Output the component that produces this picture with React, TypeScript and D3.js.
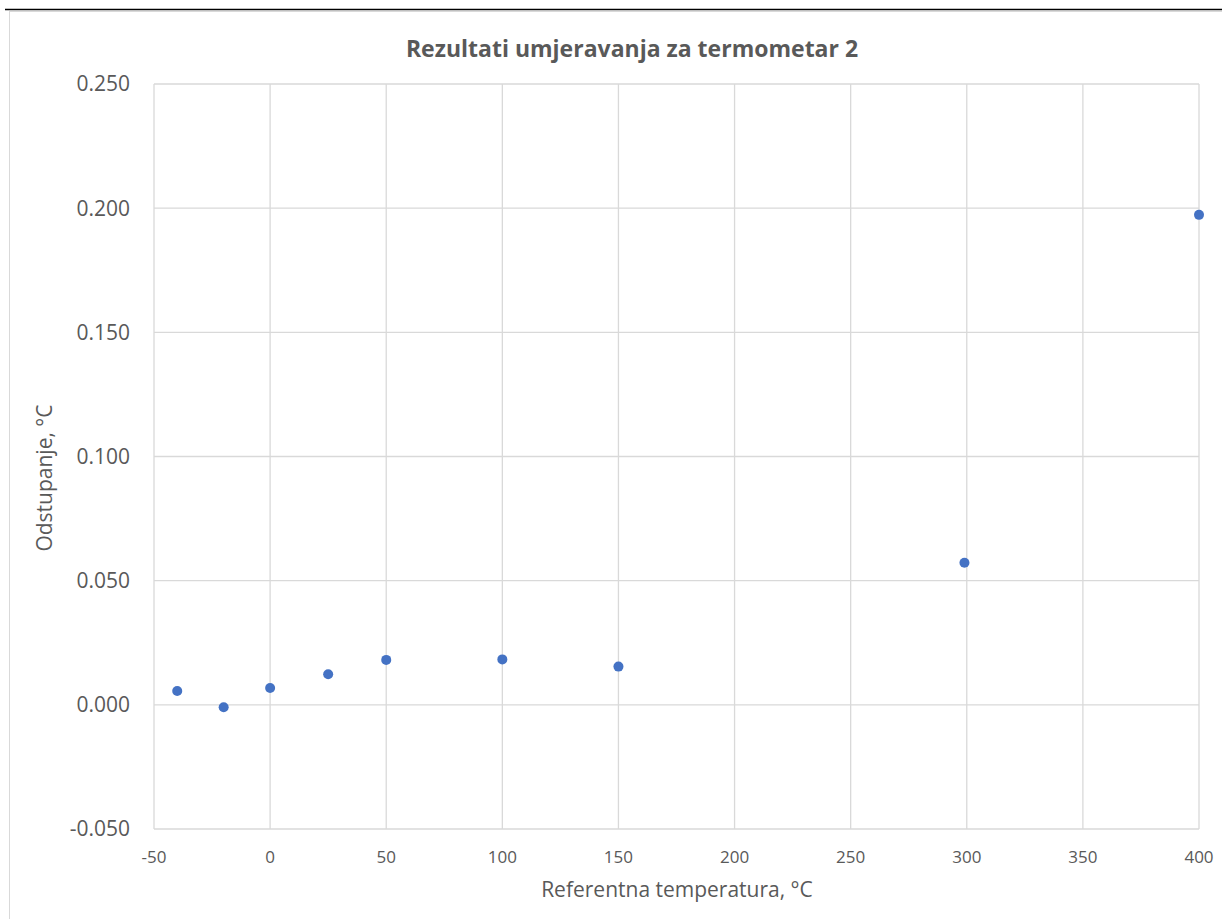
import { useEffect, useRef } from 'react';
import * as d3 from 'd3';

const temps = [-40, -20, 0, 25, 50, 100, 150, 299, 400];
const deviations = [0.0056, -0.001, 0.0068, 0.0123, 0.0181, 0.0183, 0.0154, 0.0572, 0.1973];
const xTicks = [-50, 0, 50, 100, 150, 200, 250, 300, 350, 400];
const yTicks = [-0.05, 0, 0.05, 0.1, 0.15, 0.2, 0.25];

const font = '"Open Sans", "Noto Sans", sans-serif';
const textColor = '#595959';
const gridColor = '#d9d9d9';

function App() {
  const svgRef = useRef(null);

  useEffect(() => {
    const svg = d3.select(svgRef.current);
    svg.selectAll('*').remove();

    const xScale = d3.scaleLinear().domain([-50, 400]).range([154, 1199]);
    const yScale = d3.scaleLinear().domain([-0.05, 0.25]).range([829, 84]);
    const fmt = (d: number) => d3.format('.3f')(d).replace('\u2212', '-');

    // page header rule and chart frame
    svg.append('line')
      .attr('x1', 5).attr('x2', 1222).attr('y1', 9.5).attr('y2', 9.5)
      .attr('stroke', '#000').attr('stroke-width', 1.5);
    svg.append('rect')
      .attr('x', 9.5).attr('y', 11.5).attr('width', 1230).attr('height', 920)
      .attr('fill', '#fff').attr('stroke', gridColor);

    // grid
    svg.append('g')
      .selectAll('line')
      .data(yTicks)
      .join('line')
      .attr('x1', xScale(-50)).attr('x2', xScale(400))
      .attr('y1', d => yScale(d)).attr('y2', d => yScale(d))
      .attr('stroke', gridColor).attr('stroke-width', 1.3);
    svg.append('g')
      .selectAll('line')
      .data(xTicks)
      .join('line')
      .attr('x1', d => xScale(d)).attr('x2', d => xScale(d))
      .attr('y1', yScale(0.25)).attr('y2', yScale(-0.05))
      .attr('stroke', gridColor).attr('stroke-width', 1.3);

    // tick labels
    svg.append('g')
      .selectAll('text')
      .data(yTicks)
      .join('text')
      .attr('x', 130)
      .attr('y', d => yScale(d))
      .attr('dy', '0.35em')
      .attr('text-anchor', 'end')
      .attr('font-family', font).attr('font-size', 21).attr('fill', textColor)
      .text(d => fmt(d));
    svg.append('g')
      .selectAll('text')
      .data(xTicks)
      .join('text')
      .attr('x', d => xScale(d))
      .attr('y', 857)
      .attr('dy', '0.35em')
      .attr('text-anchor', 'middle')
      .attr('font-family', font).attr('font-size', 17).attr('fill', textColor)
      .text(d => d);

    // points
    svg.append('g')
      .selectAll('circle')
      .data(temps.map((t, i) => ({ x: t, y: deviations[i] })))
      .join('circle')
      .attr('cx', d => xScale(d.x))
      .attr('cy', d => yScale(d.y))
      .attr('r', 5)
      .attr('fill', '#4472c4');

    // titles
    svg.append('text')
      .attr('x', 632).attr('y', 49).attr('dy', '0.35em')
      .attr('text-anchor', 'middle')
      .attr('font-family', font).attr('font-size', 23).attr('font-weight', 'bold')
      .attr('fill', textColor)
      .text('Rezultati umjeravanja za termometar 2');
    svg.append('text')
      .attr('x', 677).attr('y', 890).attr('dy', '0.35em')
      .attr('text-anchor', 'middle')
      .attr('font-family', font).attr('font-size', 21).attr('fill', textColor)
      .text('Referentna temperatura, °C');
    svg.append('text')
      .attr('transform', 'translate(45,478) rotate(-90)')
      .attr('dy', '0.35em')
      .attr('text-anchor', 'middle')
      .attr('font-family', font).attr('font-size', 21).attr('fill', textColor)
      .text('Odstupanje, °C');
  }, []);

  return (
    <div style={{ position: 'absolute', left: 0, top: 0 }}>
      <svg ref={svgRef} width={1222} height={919} style={{ display: 'block' }} />
    </div>
  );
}

export default App;
